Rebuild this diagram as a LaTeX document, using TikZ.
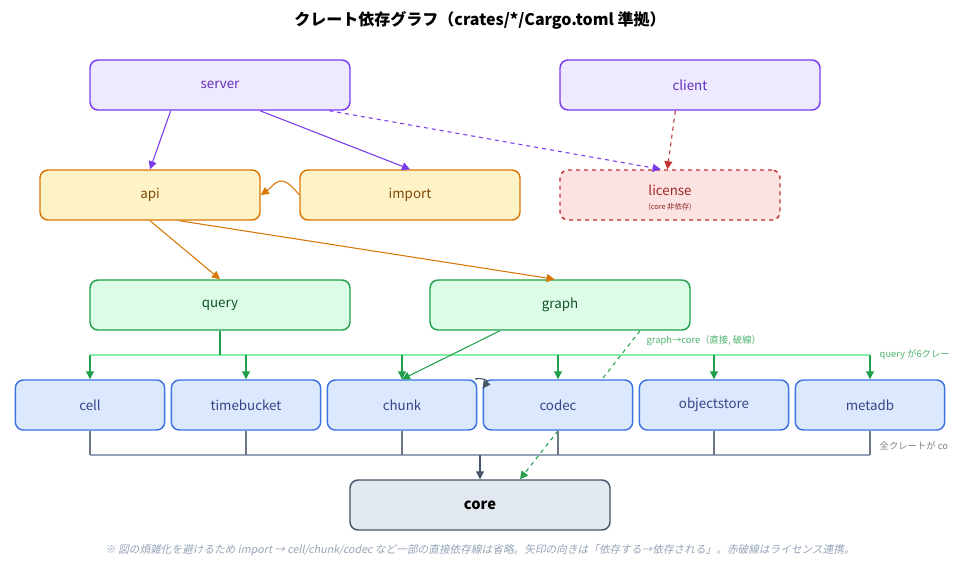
\documentclass[tikz,border=0pt]{standalone}
\usepackage{fontspec}
\setmainfont{Noto Sans CJK JP}
\newfontfamily\slfont[FakeSlant=0.2]{Noto Sans CJK JP}
\usetikzlibrary{arrows.meta}

\definecolor{purpleln}{HTML}{7C3AED}
\definecolor{purplefl}{HTML}{EDE9FE}
\definecolor{orangeln}{HTML}{D97706}
\definecolor{orangefl}{HTML}{FEF3C7}
\definecolor{redln}{HTML}{C53030}
\definecolor{redfl}{HTML}{FDE2E2}
\definecolor{greenln}{HTML}{22A04B}
\definecolor{greenfl}{HTML}{DCFCE7}
\definecolor{busgreen}{HTML}{86EFAC}
\definecolor{blueln}{HTML}{3B73E0}
\definecolor{bluefl}{HTML}{DBE8FD}
\definecolor{slateln}{HTML}{475569}
\definecolor{slatefl}{HTML}{E2E8F0}
\definecolor{busgray}{HTML}{94A3B8}

\tikzset{
  crate/.style={draw, rounded corners=6pt, line width=1.1pt, minimum width=195pt, minimum height=37.5pt, font=\fontsize{10}{12}\selectfont},
  leaf/.style={crate, draw=blueln, fill=bluefl, text=slateln!80!blue, minimum width=112pt},
  tip/.style={-{Triangle[length=6pt,width=6pt]}},
}

\begin{document}
\begin{tikzpicture}[x=0.75pt, y=-0.75pt]
\useasboundingbox (0,0) rectangle (960,575);

% Title
\node[font=\fontsize{12}{14}\bfseries\selectfont] (title) at (480,20) {クレート依存グラフ（crates/*/Cargo.toml 準拠）};

% Top layer
\node[crate, draw=purpleln, fill=purplefl, text=purpleln!80!black] (server) at (220,85) {server};
\node[crate, draw=purpleln, fill=purplefl, text=purpleln!80!black] (client) at (690,85) {client};

% Second layer
\node[crate, draw=orangeln, fill=orangefl, text=orangeln!60!black, minimum width=165pt] (api) at (150,195) {api};
\node[crate, draw=orangeln, fill=orangefl, text=orangeln!60!black, minimum width=165pt] (import) at (410,195) {import};
\node[crate, draw=redln, fill=redfl, text=redln!80!black, dashed, minimum width=165pt] (license) at (670,195) {};
\node[text=redln!80!black, font=\fontsize{10}{12}\selectfont] (lictxt) at (670,190) {license};
\node[text=redln!70!black, font=\fontsize{5.5}{6}\selectfont] (licsub) at (670,207) {(core 非依存)};

% Third layer
\node[crate, draw=greenln, fill=greenfl, text=greenln!50!black] (query) at (220,305) {query};
\node[crate, draw=greenln, fill=greenfl, text=greenln!50!black] (graph) at (560,305) {graph};

% Leaf crates
\node[leaf] (cell) at (90,405) {cell};
\node[leaf] (timebucket) at (246,405) {timebucket};
\node[leaf] (chunk) at (402,405) {chunk};
\node[leaf] (codec) at (558,405) {codec};
\node[leaf] (objectstore) at (714,405) {objectstore};
\node[leaf] (metadb) at (870,405) {metadb};

% Core
\node[crate, draw=slateln, fill=slatefl, text=black, font=\fontsize{11}{13}\bfseries\selectfont] (core) at (480,505) {core};

% Upper edges
\draw[tip, purpleln, thick] ([xshift=-37pt]server.south) -- (api.north);
\draw[tip, purpleln, thick] ([xshift=30pt]server.south) -- (import.north);
\draw[tip, purpleln, thick, dashed] ([xshift=82pt]server.south) -- ([xshift=-7pt]license.north);
\draw[tip, redln, thick, dashed] ([xshift=-11pt]client.south) -- ([xshift=-2pt]license.north);
\draw[tip, orangeln, thick] (import.west) .. controls (280,170) and (275,185) .. (api.east);
\draw[tip, orangeln, thick] (api.south) -- ([xshift=0pt]query.north);
\draw[tip, orangeln, thick] ([xshift=22pt]api.south) -- ([xshift=-4pt]graph.north);

% Query bus
\coordinate (qbus) at (220,355);
\draw[busgreen, thick] (cell.north |- qbus) -- (metadb.north |- qbus);
\draw[greenln, thick] (query.south) -- (qbus);
\foreach \leafname in {cell, timebucket, chunk, codec, objectstore, metadb}
  \draw[tip, greenln, thick] (\leafname.north |- qbus) -- (\leafname.north);
\node[anchor=west, text=greenln!80!white, font=\fontsize{7}{8}\selectfont] (qlabel) at (875,355) {query が6クレー};

% Graph edges
\draw[tip, greenln, thick] ([xshift=-45pt]graph.south) -- (chunk.north);
\draw[greenln, thick, dashed] ([xshift=60pt]graph.south) -- ([xshift=33pt]codec.north);
\draw[tip, greenln, thick, dashed] (codec.south) -- ([xshift=30pt]core.north);
\node[anchor=west, text=greenln!80!white, font=\fontsize{7}{8}\selectfont] (glabel) at (642,341) {graph→core（直接, 破線）};

% Small link chunk -> codec
\draw[tip, slateln, thick] (chunk.north east) .. controls (470,378) and (490,378) .. ([yshift=-7pt]codec.north west);

% Core bus
\coordinate (cbus) at (480,455);
\draw[busgray, thick] (cell.south |- cbus) -- (metadb.south |- cbus);
\foreach \leafname in {cell, timebucket, chunk, codec, objectstore, metadb}
  \draw[slateln!80!white, thick] (\leafname.south) -- (\leafname.south |- cbus);
\draw[tip, slateln, thick] (cbus) -- (core.north);
\node[anchor=west, text=gray, font=\fontsize{7}{8}\selectfont] (clabel) at (875,446) {全クレートが co};

% Footnote
\node[text=busgray, font=\fontsize{8}{10}\slfont] (note) at (480,550) {※ 図の煩雑化を避けるため import → cell/chunk/codec など一部の直接依存線は省略。矢印の向きは「依存する→依存される」。赤破線はライセンス連携。};
\end{tikzpicture}
\end{document}
